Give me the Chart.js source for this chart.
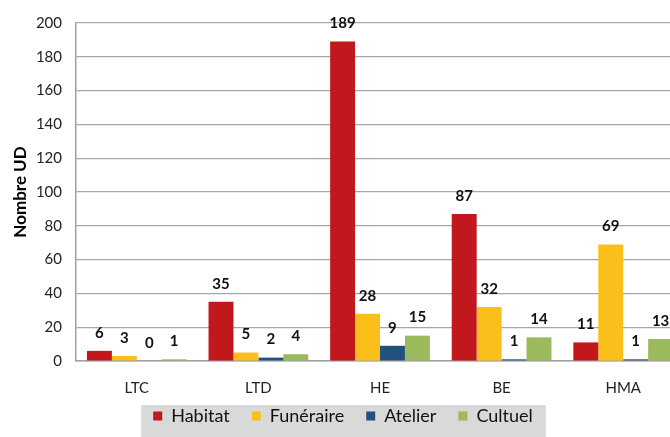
<!DOCTYPE html>
<html>
<head>
<meta charset="utf-8">
<script src="https://cdn.jsdelivr.net/npm/chart.js@4.4.1/dist/chart.umd.min.js"></script>
<style>
  html, body { margin: 0; padding: 0; background: #fff; overflow: hidden; }
  #wrap { width: 684px; height: 437px; }
</style>
</head>
<body>
<div id="wrap"><canvas id="chart" width="684" height="437"></canvas></div>
<script>
const categories = ['LTC', 'LTD', 'HE', 'BE', 'HMA'];
const habitat = [6, 35, 189, 87, 11];
const funeraire = [3, 5, 28, 32, 69];
const atelier = [0, 2, 9, 1, 1];
const cultuel = [1, 4, 15, 14, 13];
const yMin = 0;
const yMax = 200;
const yStep = 20;

const FONT = 'Lato';

// value printed above every bar, including the zero ones
const valueLabels = {
  id: 'valueLabels',
  afterDatasetsDraw(chart) {
    const { ctx } = chart;
    ctx.save();
    ctx.font = `bold 15px ${FONT}`;
    ctx.fillStyle = '#111';
    ctx.textAlign = 'center';
    ctx.textBaseline = 'middle';
    chart.data.datasets.forEach((ds, i) => {
      chart.getDatasetMeta(i).data.forEach((bar, j) => {
        ctx.fillText(String(ds.data[j]), bar.x, bar.y - 18);
      });
    });
    ctx.restore();
  },
};

// nudge the legend into place and paint a grey panel behind it
const legendPanel = {
  id: 'legendPanel',
  afterLayout(chart) {
    const lg = chart.legend;
    lg.left += 1;
    lg.right += 1;
    lg.top -= 18;
    lg.height += 18;
  },
  beforeDraw(chart) {
    const boxes = chart.legend.legendHitBoxes;
    if (!boxes || !boxes.length) {
      return;
    }
    const left = Math.min(...boxes.map((b) => b.left)) - 12;
    const right = Math.max(...boxes.map((b) => b.left + b.width)) + 13;
    const top = Math.min(...boxes.map((b) => b.top)) - 2;
    const { ctx } = chart;
    ctx.save();
    ctx.fillStyle = '#d9d9d9';
    ctx.fillRect(left, top, right - left, chart.height - top);
    ctx.restore();
  },
};

const ctx = document.getElementById('chart').getContext('2d');
new Chart(ctx, {
  type: 'bar',
  data: {
    labels: categories,
    datasets: [
      { label: 'Habitat', data: habitat, backgroundColor: '#C0181C' },
      { label: 'Funéraire', data: funeraire, backgroundColor: '#FBBF1B' },
      { label: 'Atelier', data: atelier, backgroundColor: '#23517F' },
      { label: 'Cultuel', data: cultuel, backgroundColor: '#9ABA5B' },
    ],
  },
  options: {
    responsive: false,
    animation: false,
    datasets: { bar: { categoryPercentage: 0.82, barPercentage: 1 } },
    layout: { padding: { top: 20, left: 0, right: 0, bottom: 0 } },
    plugins: {
      legend: {
        position: 'bottom',
        maxHeight: 34,
        labels: {
          boxWidth: 9,
          boxHeight: 9,
          padding: 22,
          color: '#111',
          font: { family: FONT, size: 18 },
        },
      },
      tooltip: { enabled: false },
    },
    scales: {
      x: {
        grid: { display: false, drawTicks: false },
        border: { color: '#a0a0a0', width: 1.5 },
        ticks: { color: '#222', padding: 18, font: { family: FONT, size: 15 } },
        afterFit(scale) {
          scale.height = 42;
        },
      },
      y: {
        min: yMin,
        max: yMax,
        ticks: {
          stepSize: yStep,
          color: '#222',
          padding: 14,
          font: { family: FONT, size: 15 },
        },
        grid: { color: '#a6a6a6', lineWidth: 1.2, drawTicks: false },
        border: { color: '#a0a0a0', width: 1.5 },
        title: {
          display: true,
          text: 'Nombre UD',
          color: '#000',
          font: { family: FONT, size: 17, weight: 'bold' },
          padding: { top: 10, bottom: 0 },
        },
        afterFit(scale) {
          scale.width = 76;
        },
      },
    },
  },
  plugins: [valueLabels, legendPanel],
});
</script>
</body>
</html>
